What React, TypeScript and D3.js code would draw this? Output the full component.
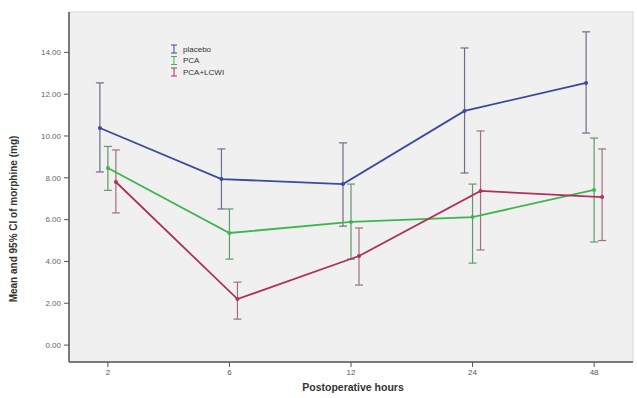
import React from 'react';
import * as d3 from 'd3';

const hours = ['2', '6', '12', '24', '48'];
const groups = ['placebo', 'PCA', 'PCA+LCWI'];
const colors = ['#3b4a9c', '#3fb54e', '#b0305e'];
const barColors = ['#6b6f8e', '#5f9a68', '#a0707f'];

// mean, lower CI, upper CI per hour
const placeboMean = [10.38, 7.94, 7.7, 11.2, 12.54];
const placeboLow = [8.28, 6.51, 5.69, 8.23, 10.14];
const placeboHigh = [12.54, 9.38, 9.67, 14.21, 14.98];

const pcaMean = [8.47, 5.36, 5.89, 6.12, 7.42];
const pcaLow = [7.4, 4.11, 4.11, 3.92, 4.93];
const pcaHigh = [9.5, 6.51, 7.7, 7.7, 9.9];

const comboMean = [7.8, 2.2, 4.26, 7.37, 7.08];
const comboLow = [6.32, 1.24, 2.87, 4.55, 5.0];
const comboHigh = [9.33, 3.01, 5.6, 10.24, 9.38];

const yTicks = [0, 2, 4, 6, 8, 10, 12, 14];

const series = [
  { mean: placeboMean, low: placeboLow, high: placeboHigh },
  { mean: pcaMean, low: pcaLow, high: pcaHigh },
  { mean: comboMean, low: comboLow, high: comboHigh },
];

const W = 637;
const H = 398;
const left = 69;
const right = 633;
const top = 12;
const bottom = 362;

export default function App() {
  const x = d3.scalePoint<string>().domain(hours).range([left, right]).padding(0.32);
  const offset = d3.scalePoint<string>().domain(groups).range([-8, 8]);
  const y = d3.scaleLinear().domain([-0.81, 15.93]).range([bottom, top]);

  const line = d3
    .line<[number, number]>()
    .x((d) => d[0])
    .y((d) => d[1]);

  const fmt = (v: number) => (v === 0 ? '0.00' : d3.format('.2f')(v));

  return (
    <svg width={W} height={H} style={{ position: 'absolute', left: 0, top: 0 }} fontFamily="Arial, 'Liberation Sans', sans-serif">
      <rect x={0} y={0} width={W} height={H} fill="#ffffff" />
      <rect x={left} y={top} width={right - left} height={bottom - top} fill="#f0f0f0" stroke="#d8d8d8" />

      {/* axes */}
      <line x1={left} y1={top} x2={left} y2={bottom} stroke="#555" strokeWidth={1.5} />
      <line x1={left} y1={bottom} x2={right} y2={bottom} stroke="#555" strokeWidth={1.5} />

      {yTicks.map((t) => (
        <g key={t}>
          <line x1={left - 5} x2={left} y1={y(t)} y2={y(t)} stroke="#555" />
          <text x={left - 8} y={y(t)} dy="0.35em" textAnchor="end" fontSize={8} fill="#666">
            {fmt(t)}
          </text>
        </g>
      ))}
      {hours.map((h) => (
        <g key={h}>
          <line x1={x(h)} x2={x(h)} y1={bottom} y2={bottom + 5} stroke="#555" />
          <text x={x(h)} y={bottom + 13} textAnchor="middle" fontSize={8} fill="#555">
            {h}
          </text>
        </g>
      ))}

      <text
        transform={`translate(17,${(top + bottom) / 2 + 32}) rotate(-90)`}
        textAnchor="middle"
        fontSize={10}
        fontWeight="bold"
        fill="#333"
      >
        Mean and 95% CI of morphine (mg)
      </text>
      <text x={353} y={391} textAnchor="middle" fontSize={10.5} fontWeight="bold" fill="#333">
        Postoperative hours
      </text>

      {/* error bars */}
      {series.map((s, gi) =>
        hours.map((h, i) => {
          const cx = (x(h) as number) + (offset(groups[gi]) as number);
          return (
            <g key={`${gi}-${h}`} stroke={barColors[gi]} strokeWidth={1.2}>
              <line x1={cx} x2={cx} y1={y(s.low[i])} y2={y(s.high[i])} />
              <line x1={cx - 4} x2={cx + 4} y1={y(s.low[i])} y2={y(s.low[i])} />
              <line x1={cx - 4} x2={cx + 4} y1={y(s.high[i])} y2={y(s.high[i])} />
            </g>
          );
        })
      )}

      {/* mean lines */}
      {series.map((s, gi) => {
        const pts: [number, number][] = hours.map((h, i) => [
          (x(h) as number) + (offset(groups[gi]) as number),
          y(s.mean[i]),
        ]);
        return (
          <g key={gi}>
            <path d={line(pts) || ''} fill="none" stroke={colors[gi]} strokeWidth={1.8} />
            {pts.map((p, i) => (
              <circle key={i} cx={p[0]} cy={p[1]} r={2} fill={colors[gi]} />
            ))}
          </g>
        );
      })}

      {/* legend */}
      {groups.map((g, gi) => {
        const ly = 49 + gi * 11.5;
        return (
          <g key={g}>
            <g stroke={colors[gi]} strokeWidth={1}>
              <line x1={174} x2={174} y1={ly - 4} y2={ly + 4} />
              <line x1={171} x2={177} y1={ly - 4} y2={ly - 4} />
              <line x1={171} x2={177} y1={ly + 4} y2={ly + 4} />
            </g>
            <text x={183} y={ly} dy="0.35em" fontSize={8} fill="#333">
              {g}
            </text>
          </g>
        );
      })}
    </svg>
  );
}
